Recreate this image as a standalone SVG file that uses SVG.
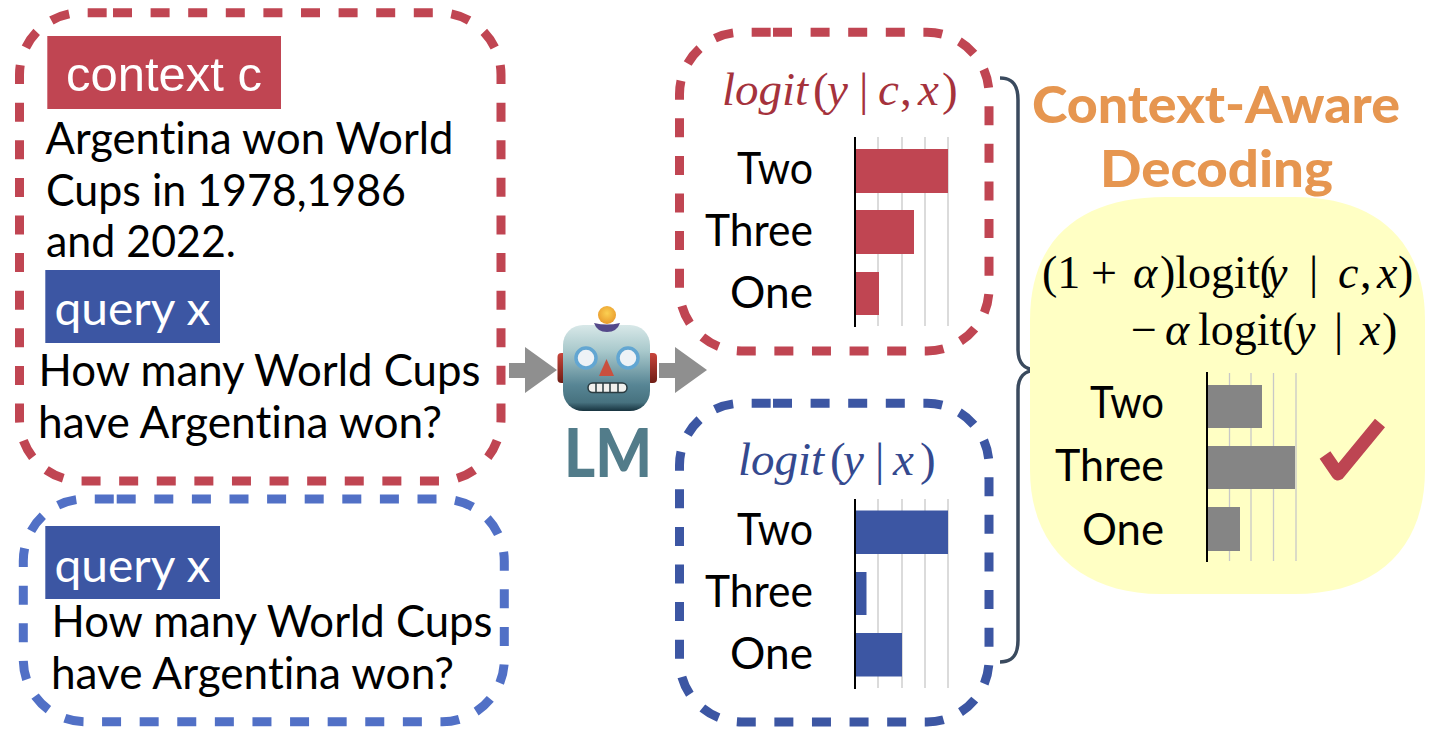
<svg xmlns="http://www.w3.org/2000/svg" width="1442" height="740" viewBox="0 0 1442 740">
<style>
text{font-variant-ligatures:none}
.t{font-family:"Lato","Noto Sans",sans-serif;font-size:44px;fill:#000}
.q{font-size:47px;fill:#fff}
.h{font-family:"Lato",sans-serif;font-weight:900;fill:#e69650;font-size:51px}
.f{font-family:"Liberation Serif","Times New Roman",serif}
.i{font-style:italic}
.d{fill:none;stroke-width:9;stroke-dasharray:19 18.6}
.g{stroke:#c8c8c8;stroke-width:1.3}
.a{stroke:#000;stroke-width:2}
.ar{fill:#8f8f8f}
</style>
<defs>
<linearGradient id="face" x1="0" y1="0" x2="0" y2="1"><stop offset="0" stop-color="#d8e8e8"/><stop offset=".3" stop-color="#a9c9cc"/><stop offset=".7" stop-color="#578594"/><stop offset=".9" stop-color="#47727f"/><stop offset="1" stop-color="#17333f"/></linearGradient>
<linearGradient id="ear" x1="0" y1="0" x2="0" y2="1"><stop offset="0" stop-color="#c8453c"/><stop offset="1" stop-color="#6f1d15"/></linearGradient>
<radialGradient id="bulb" cx=".5" cy=".4" r=".6"><stop offset="0" stop-color="#fbd052"/><stop offset="1" stop-color="#e99a2c"/></radialGradient>
</defs>
<g id="context-box">
<path class="d" stroke="#c04552" d="M113 12.700H439A62 62 0 0 1 501 74.700V419A62 62 0 0 1 439 481H81.500A62 62 0 0 1 19.500 419V74.700A62 62 0 0 1 81.500 12.700Z"/>
<rect x="47.300" y="36" width="233.700" height="73" fill="#c04552"/>
<text x="66" y="90.500" font-family="Liberation Sans,Arial,sans-serif" font-size="48" fill="#fff" textLength="196" lengthAdjust="spacingAndGlyphs">context c</text>
<text class="t" x="45.500" y="154" textLength="408" lengthAdjust="spacingAndGlyphs">Argentina won World</text>
<text class="t" x="46" y="205.500" textLength="360" lengthAdjust="spacingAndGlyphs">Cups in 1978,1986</text>
<text class="t" x="46" y="257" textLength="190" lengthAdjust="spacingAndGlyphs">and 2022.</text>
<rect x="45.300" y="270" width="174.700" height="73" fill="#3c56a3"/>
<text class="t q" x="54.500" y="325" textLength="156" lengthAdjust="spacingAndGlyphs">query x</text>
<text class="t" x="38.500" y="385.500" textLength="442" lengthAdjust="spacingAndGlyphs">How many World Cups</text>
<text class="t" x="38" y="438" textLength="404" lengthAdjust="spacingAndGlyphs">have Argentina won?</text>
</g>
<g id="query-box">
<path class="d" stroke="#5170c6" d="M116.700 499H442.300A62 62 0 0 1 504.300 561V659.700A62 62 0 0 1 442.300 721.700H85.300A62 62 0 0 1 23.300 659.700V561A62 62 0 0 1 85.300 499Z"/>
<rect x="45.300" y="526" width="174.700" height="73" fill="#3c56a3"/>
<text class="t q" x="54.500" y="581.500" textLength="156" lengthAdjust="spacingAndGlyphs">query x</text>
<text class="t" x="51.500" y="636.500" textLength="441" lengthAdjust="spacingAndGlyphs">How many World Cups</text>
<text class="t" x="51" y="689" textLength="403" lengthAdjust="spacingAndGlyphs">have Argentina won?</text>
</g>
<g id="connectors">
<path class="ar" d="M509 363H525V347L557 370L525 393V378H509Z"/>
<path class="ar" d="M659 363H675V347L707 370L675 393V378H659Z"/>
<path d="M1000 78C1012 78 1018 84 1018 100V350C1018 362 1024 370 1037 370C1024 370 1018 378 1018 390V640C1018 656 1012 662 1000 662" fill="none" stroke="#3a4a5e" stroke-width="3.500"/>
</g>
<g id="lm">
<rect x="557.500" y="353" width="10" height="30" rx="4" fill="url(#ear)"/>
<rect x="647" y="353" width="10" height="30" rx="4" fill="url(#ear)"/>
<circle cx="607" cy="315" r="9" fill="url(#bulb)"/>
<rect x="563" y="325" width="87" height="86" rx="20" fill="url(#face)"/>
<path d="M594 323Q607 326 620 323Q617 332 607 332Q597 332 594 323Z" fill="#54498a"/>
<circle cx="586" cy="358" r="10" fill="#eef2f6" stroke="#62a6d2" stroke-width="3.500"/>
<circle cx="628" cy="358" r="10" fill="#eef2f6" stroke="#62a6d2" stroke-width="3.500"/>
<path d="M606.500 359L614 376H599Z" fill="#c9503f"/>
<rect x="588" y="383" width="39" height="9.500" rx="4.700" fill="#f1f1ee" stroke="#2a3b40" stroke-width="1.500"/>
<path d="M596 383V392M603 383V392M610 383V392M618 383V392" stroke="#2a3b40" stroke-width="1.500"/>
<text x="564" y="477" textLength="88" lengthAdjust="spacingAndGlyphs" font-family="Lato,sans-serif" font-weight="900" font-size="67" fill="#527c8a">LM</text>
</g>
<g id="logit-context">
<path class="d" stroke="#c04552" d="M773 32.300H927A62 62 0 0 1 989 94.300V289A62 62 0 0 1 927 351H741.500A62 62 0 0 1 679.500 289V94.300A62 62 0 0 1 741.500 32.300Z"/>
<text class="f" y="105" font-size="47" fill="#a5323c"><tspan class="i" x="722">logit</tspan><tspan x="813">(</tspan><tspan class="i" x="827">y</tspan><tspan x="859">|</tspan><tspan class="i" x="878">c</tspan><tspan x="900">,</tspan><tspan class="i" x="918">x</tspan><tspan x="942">)</tspan></text>
<path class="g" d="M878 137V326M902 137V326M925 137V326M948 137V326"/>
<path d="M855 149H948V193H855ZM855 210H914V254H855ZM855 272H879V315H855Z" fill="#c04552"/>
<path class="a" d="M855 137V327"/>
<text class="t" x="737" y="183.500" textLength="76" lengthAdjust="spacingAndGlyphs">Two</text>
<text class="t" x="705" y="245.500" textLength="108" lengthAdjust="spacingAndGlyphs">Three</text>
<text class="t" x="730" y="307.500" textLength="83" lengthAdjust="spacingAndGlyphs">One</text>
</g>
<g id="logit-query">
<path class="d" stroke="#3c56a3" d="M773 403.300H927A62 62 0 0 1 989 465.300V660A62 62 0 0 1 927 722H741.500A62 62 0 0 1 679.500 660V465.300A62 62 0 0 1 741.500 403.300Z"/>
<text class="f" y="475" font-size="47" fill="#34498f"><tspan class="i" x="738">logit</tspan><tspan x="830">(</tspan><tspan class="i" x="843">y</tspan><tspan x="875">|</tspan><tspan class="i" x="893">x</tspan><tspan x="920">)</tspan></text>
<path class="g" d="M878 499V688M902 499V688M925 499V688M948 499V688"/>
<path d="M855 510.500H948V554H855ZM855 572H866.500V615H855ZM855 633H902V676.500H855Z" fill="#3c56a3"/>
<path class="a" d="M855 499V689"/>
<text class="t" x="737" y="545" textLength="76" lengthAdjust="spacingAndGlyphs">Two</text>
<text class="t" x="705" y="607" textLength="108" lengthAdjust="spacingAndGlyphs">Three</text>
<text class="t" x="730" y="669" textLength="83" lengthAdjust="spacingAndGlyphs">One</text>
</g>
<g id="decoding">
<text class="h" x="1032" y="123" textLength="368" lengthAdjust="spacingAndGlyphs">Context-Aware</text>
<text class="h" x="1100" y="187" textLength="233" lengthAdjust="spacingAndGlyphs">Decoding</text>
</g>
<g id="result">
<path d="M1030 320C1030 235 1085 197 1165 197H1295C1375 197 1425 240 1425 320V470C1425 550 1375 594 1295 594H1160C1085 594 1030 550 1030 470Z" fill="#ffffc4"/>
<text class="f" y="288" font-size="46" fill="#000"><tspan x="1042">(1</tspan><tspan x="1091">+</tspan><tspan class="i" x="1133">α</tspan><tspan x="1160">)logit(</tspan><tspan class="i" x="1267">y</tspan><tspan x="1309">|</tspan><tspan class="i" x="1338">c</tspan><tspan x="1360">,</tspan><tspan class="i" x="1377">x</tspan><tspan x="1398">)</tspan></text>
<text class="f" y="345" font-size="46" fill="#000"><tspan x="1131">−</tspan><tspan class="i" x="1165">α</tspan><tspan x="1198">logit(</tspan><tspan class="i" x="1295">y</tspan><tspan x="1334">|</tspan><tspan class="i" x="1360">x</tspan><tspan x="1382">)</tspan></text>
<path class="g" d="M1229.500 373V561M1251 373V561M1273.500 373V561M1296 373V561"/>
<path d="M1207 385H1262V428H1207ZM1207 446H1295V489H1207ZM1207 507H1240V551H1207Z" fill="#858585"/>
<path class="a" d="M1207 372V562"/>
<text class="t" x="1090" y="418" textLength="74" lengthAdjust="spacingAndGlyphs">Two</text>
<text class="t" x="1055" y="481" textLength="109" lengthAdjust="spacingAndGlyphs">Three</text>
<text class="t" x="1082" y="544.500" textLength="82" lengthAdjust="spacingAndGlyphs">One</text>
<path d="M1325 455L1338 474L1380 423" fill="none" stroke="#bd4552" stroke-width="13" stroke-linejoin="round"/>
</g>
</svg>
